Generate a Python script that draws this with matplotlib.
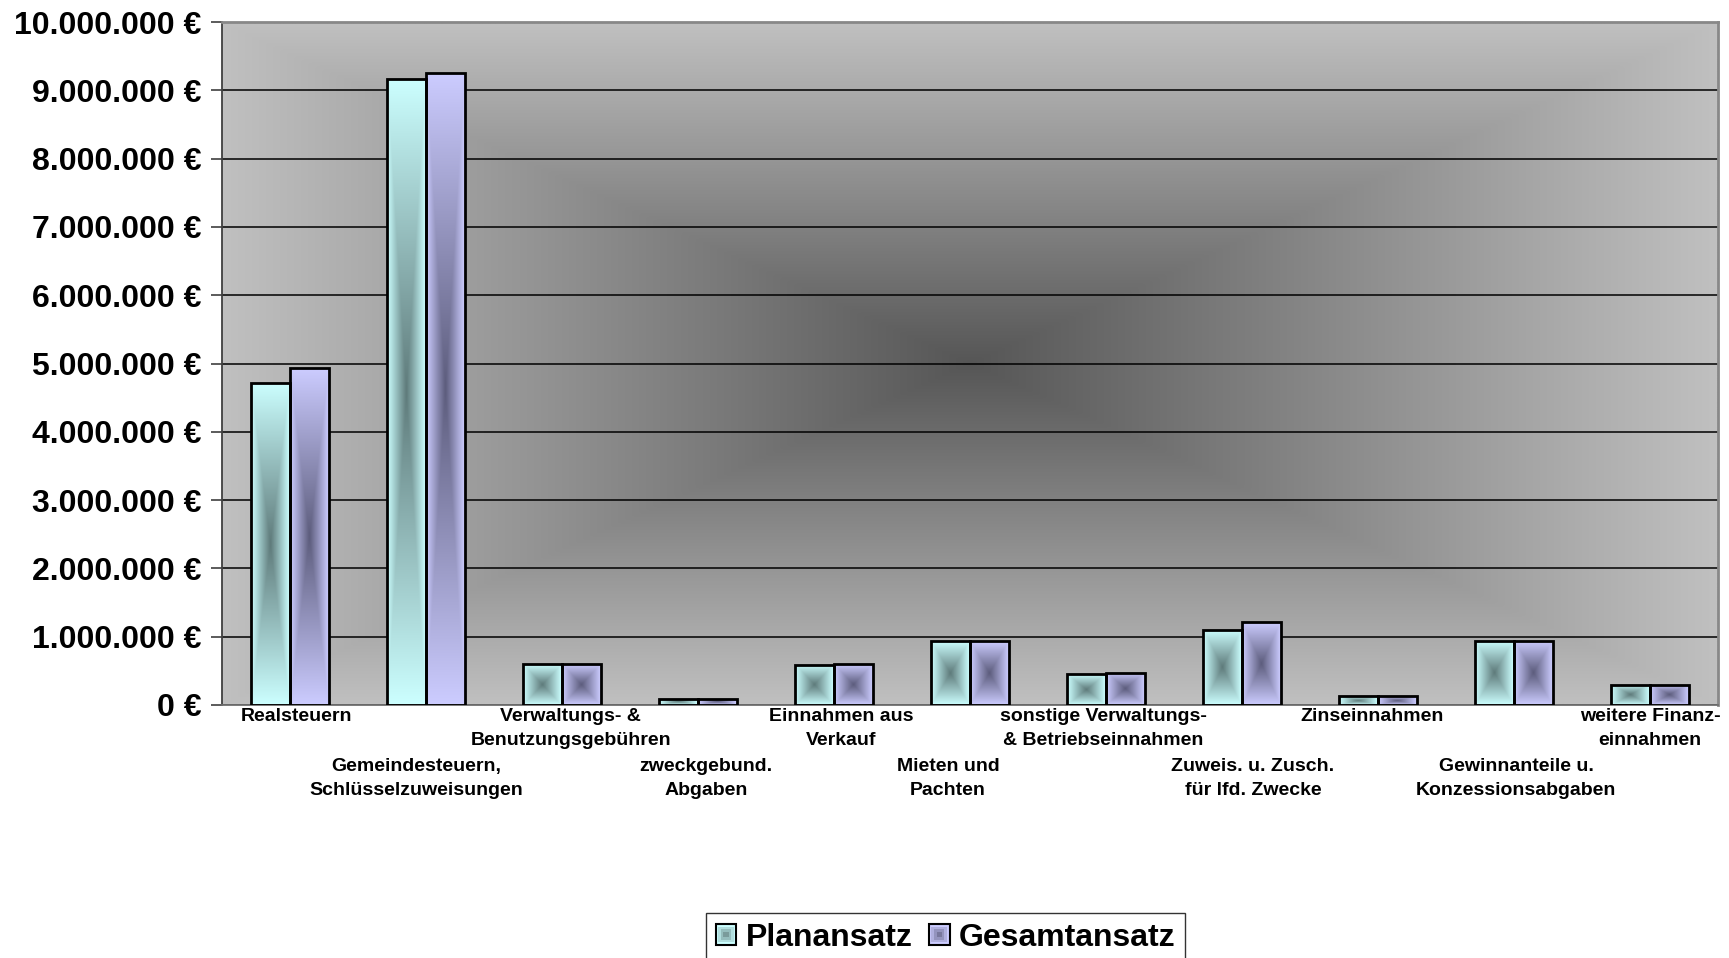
import numpy as np
import matplotlib
matplotlib.use("Agg")
import matplotlib.pyplot as plt
from matplotlib.patches import Rectangle
from matplotlib.legend_handler import HandlerBase
from matplotlib.ticker import FuncFormatter

plt.rcParams['font.family'] = ['Liberation Sans', 'DejaVu Sans']
plt.rcParams['font.weight'] = 'bold'

# data
kategorien = ["Realsteuern",
              "Gemeindesteuern,\nSchlüsselzuweisungen",
              "Verwaltungs- &\nBenutzungsgebühren",
              "zweckgebund.\nAbgaben",
              "Einnahmen aus\nVerkauf",
              "Mieten und\nPachten",
              "sonstige Verwaltungs-\n& Betriebseinnahmen",
              "Zuweis. u. Zusch.\nfür lfd. Zwecke",
              "Zinseinnahmen",
              "Gewinnanteile u.\nKonzessionsabgaben",
              "weitere Finanz-\neinnahmen"]
planansatz = [4720000, 9170000, 600000, 90000, 590000, 930000,
              450000, 1100000, 130000, 940000, 300000]
gesamtansatz = [4930000, 9260000, 600000, 90000, 600000, 930000,
                470000, 1210000, 130000, 940000, 300000]
y_ticks = [0, 1000000, 2000000, 3000000, 4000000, 5000000,
           6000000, 7000000, 8000000, 9000000, 10000000]

# small horizontal shifts of the category labels (points), as in the original
label_shift = [4.5, -6.7, 6.4, 5.9, 5.0, -15.9, -1.9, 7.9, -4.4, 1.6, 0]

farben = {"Planansatz": ("#ccffff", "#5e7a7a"),
          "Gesamtansatz": ("#ccccff", "#5c5c7c")}


def box_gradient(edge, center, nx=60, ny=200):
    # rectangular gradient: light at the border, dark in the middle
    e = np.array(matplotlib.colors.to_rgb(edge))
    c = np.array(matplotlib.colors.to_rgb(center))
    u = np.linspace(-1, 1, nx)
    v = np.linspace(-1, 1, ny)
    U, V = np.meshgrid(u, v)
    m = np.maximum(np.abs(U), np.abs(V))[..., None]
    return c + (e - c) * m


fig = plt.figure(figsize=(17.29, 9.58), dpi=100)
ax = fig.add_axes([222 / 1729, 1 - 705 / 958, 1496 / 1729, 683 / 958])

# plot area background
bg = box_gradient("#c0c0c0", "#565656", nx=400, ny=200)
ax.imshow(bg, extent=(0, 1, 0, 1), transform=ax.transAxes,
          aspect='auto', zorder=0, interpolation='bilinear')

x = np.arange(len(kategorien))
breite = 0.286
for name, werte, off in [("Planansatz", planansatz, -breite / 2),
                         ("Gesamtansatz", gesamtansatz, breite / 2)]:
    bars = ax.bar(x + off, werte, breite, facecolor='none',
                  edgecolor='black', linewidth=2.0, zorder=3, label=name)
    for b in bars:
        img = box_gradient(*farben[name])
        im = ax.imshow(img, extent=(b.get_x(), b.get_x() + b.get_width(),
                                    0, b.get_height()),
                       aspect='auto', zorder=2.5, interpolation='bilinear')
        im.set_clip_path(b)

ax.set_xlim(-0.5, len(kategorien) - 0.5)
ax.set_ylim(0, 10000000)
ax.set_yticks(y_ticks)
ax.yaxis.set_major_formatter(
    FuncFormatter(lambda v, p: f"{int(v):,}".replace(",", ".") + " €"))
ax.tick_params(axis='y', labelsize=23, length=8, width=1.2, pad=7,
               color='#404040')
ax.set_xticks([])
ax.set_axisbelow('line')
ax.yaxis.grid(True, color='black', linewidth=1.1)

for s in ['top', 'right']:
    ax.spines[s].set_color('#888888')
    ax.spines[s].set_linewidth(2)
ax.spines['left'].set_color('#404040')
ax.spines['left'].set_linewidth(1.3)
ax.spines['bottom'].set_color('#707070')
ax.spines['bottom'].set_linewidth(1.3)

# staggered category labels
for i, lab in enumerate(kategorien):
    dy = -2.5 if i % 2 == 0 else -38.5
    ax.annotate(lab, xy=(i, 0), xycoords=('data', 'axes fraction'),
                xytext=(label_shift[i], dy), textcoords='offset points',
                ha='center', va='top', fontsize=14, fontweight='bold',
                linespacing=1.5)


class GradientHandler(HandlerBase):
    def __init__(self, edge, center):
        super().__init__()
        self.edge = edge
        self.center = center

    def create_artists(self, legend, orig_handle, xdescent, ydescent,
                       width, height, fontsize, trans):
        s = min(width, height)
        x0 = -xdescent + (width - s) / 2
        y0 = -ydescent + (height - s) / 2
        arts = []
        e = np.array(matplotlib.colors.to_rgb(self.edge))
        c = np.array(matplotlib.colors.to_rgb(self.center))
        for k in range(4):
            f = k / 4
            col = e + (c - e) * f
            d = s * f / 2
            r = Rectangle((x0 + d, y0 + d), s - 2 * d, s - 2 * d,
                          facecolor=col, edgecolor='black' if k == 0 else 'none',
                          linewidth=1.5 if k == 0 else 0, transform=trans)
            arts.append(r)
        return arts


h1 = Rectangle((0, 0), 1, 1)
h2 = Rectangle((0, 0), 1, 1)
leg = fig.legend([h1, h2], ["Planansatz", "Gesamtansatz"],
                 loc='upper left', bbox_to_anchor=(706 / 1729, 1 - 913 / 958),
                 ncol=2, fontsize=23, frameon=True, fancybox=False,
                 handlelength=0.65, handleheight=0.65, handletextpad=0.3,
                 columnspacing=0.5, borderpad=0.3, borderaxespad=0,
                 handler_map={h1: GradientHandler(*farben["Planansatz"]),
                              h2: GradientHandler(*farben["Gesamtansatz"])})
leg.get_frame().set_edgecolor('black')
leg.get_frame().set_linewidth(1.0)
for t in leg.get_texts():
    t.set_fontweight('bold')

fig.savefig("out.png", dpi=100)
